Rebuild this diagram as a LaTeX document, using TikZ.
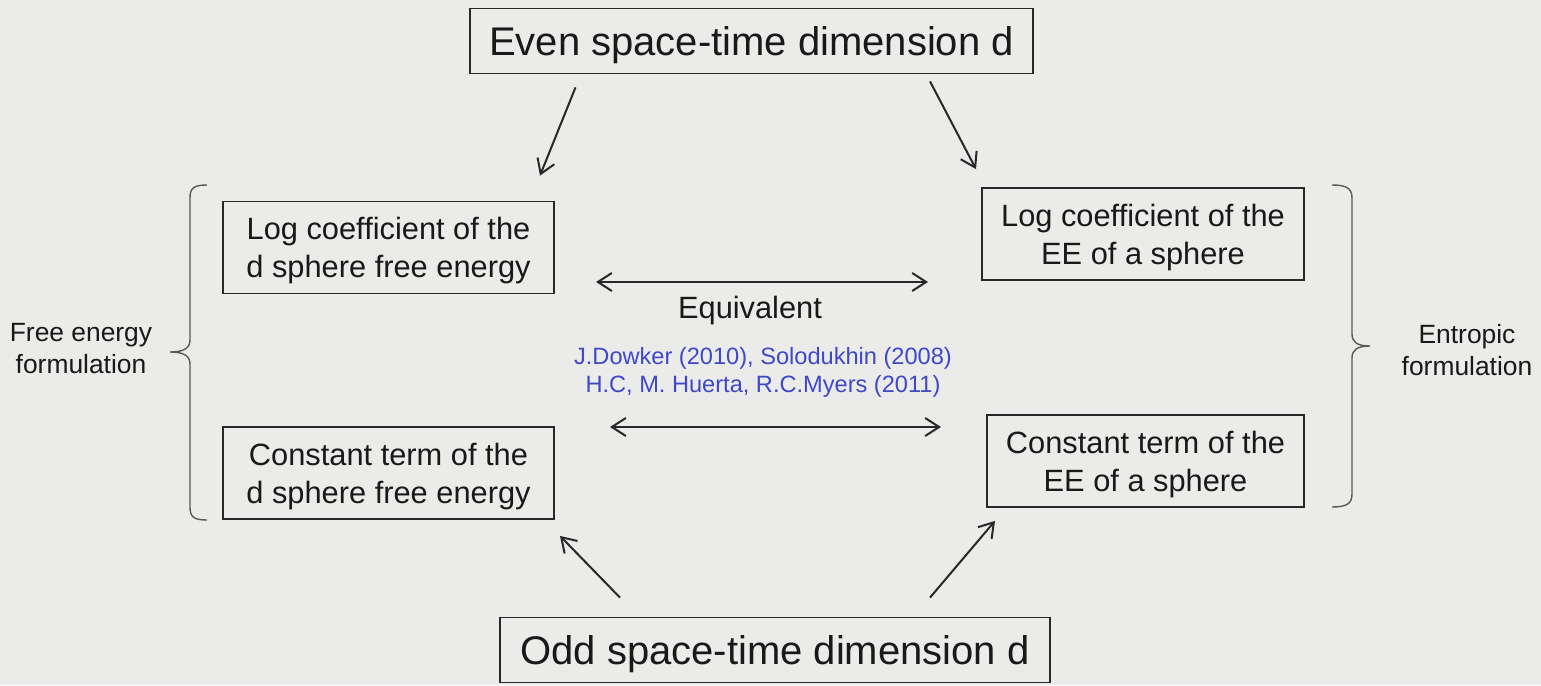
\documentclass[tikz,border=0pt]{standalone}
\usepackage{fontspec}
\setmainfont{Liberation Sans}
\usetikzlibrary{positioning,arrows.meta}
\definecolor{slidebg}{RGB}{235,235,233}
\definecolor{refblue}{RGB}{62,72,200}
\definecolor{inkgray}{RGB}{40,40,40}

\begin{document}
\begin{tikzpicture}[
    x=0.5pt, y=-0.5pt,
    box/.style={rectangle, draw=inkgray, line width=0.9pt, minimum width=#1, minimum height=46pt, inner sep=0pt, align=center, text depth=0pt, text=black!90, font=\fontsize{15.4}{19}\selectfont},
    dimbox/.style={rectangle, draw=inkgray, line width=0.9pt, minimum width=#1, minimum height=32.5pt, inner sep=0pt, text depth=0pt, text=black!90, font=\fontsize{20}{24}\selectfont},
    arrow/.style={-{Straight Barb[length=7pt,width=9pt]}, line width=1pt, inkgray},
    dblarrow/.style={{Straight Barb[length=7pt,width=9pt]}-{Straight Barb[length=7pt,width=9pt]}, line width=1pt, inkgray},
    bracket/.style={line width=0.7pt, black!65},
    side/.style={align=center, text=black!90, font=\fontsize{13.2}{16}\selectfont},
]
    \fill[slidebg] (0,0) rectangle (1541,685);
    \useasboundingbox (0,0) rectangle (1541,685);

    % Dimension boxes
    \node[dimbox=281.5pt] (even) at (751.5,41) {Even space-time dimension d};
    \node[dimbox=275pt] (odd) at (775,650) {Odd space-time dimension d};

    % Free energy side
    \node[box=165.5pt] (logF) at (388.5,247.5) {Log coefficient of the\\d sphere free energy};
    \node[box=165.5pt] (constF) at (388.5,473) {Constant term of the\\d sphere free energy};

    % Entropic side
    \node[box=161pt] (logS) at (1143,234) {Log coefficient of the\\EE of a sphere};
    \node[box=158.5pt] (constS) at (1145.5,461) {Constant term of the\\EE of a sphere};

    \draw[arrow] ([xshift=-88pt, yshift=-6.5pt]even.south) -- ([xshift=75.75pt, yshift=12.5pt]logF.north);
    \draw[arrow] ([xshift=89.25pt, yshift=-3.5pt]even.south) -- ([xshift=-83.5pt, yshift=9pt]logS.north);
    \draw[arrow] ([xshift=-77.5pt, yshift=9.5pt]odd.north) -- ([xshift=85.75pt, yshift=-8pt]constF.south);
    \draw[arrow] ([xshift=77.5pt, yshift=9.5pt]odd.north) -- ([xshift=-75.25pt, yshift=-6.5pt]constS.south);

    % Equivalence
    \coordinate (eqA) at (596,282);
    \coordinate (eqB) at (928,282);
    \coordinate (eqC) at (610,427);
    \coordinate (eqD) at (941,427);
    \draw[dblarrow] (eqA) -- (eqB);
    \draw[dblarrow] (eqC) -- (eqD);
    \node[text depth=0pt, text=black!90, font=\fontsize{15.4}{19}\selectfont] (equiv) at (750,307) {Equivalent};
    \node[align=center, text=refblue, font=\fontsize{11.8}{14}\selectfont] (refs) at (763,372) {J.Dowker (2010), Solodukhin (2008)\\H.C, M. Huerta, R.C.Myers (2011)};

    % Braces and labels
    \draw[bracket] (207,185) .. controls (194,185) and (190,188) .. (190,198) -- (190,340)
        .. controls (190,348) and (184,352) .. (170,352) .. controls (184,352) and (190,356) .. (190,364)
        -- (190,507) .. controls (190,517) and (194,520) .. (207,520);
    \draw[bracket] (1332,185) .. controls (1346,185) and (1352,188) .. (1352,198) -- (1352,334)
        .. controls (1352,342) and (1357,346) .. (1370,346) .. controls (1357,346) and (1352,350) .. (1352,358)
        -- (1352,494) .. controls (1352,504) and (1346,507) .. (1332,507);
    \node[side] (freelab) at (81,349) {Free energy\\formulation};
    \node[side] (entlab) at (1467,350) {Entropic\\formulation};
\end{tikzpicture}
\end{document}
